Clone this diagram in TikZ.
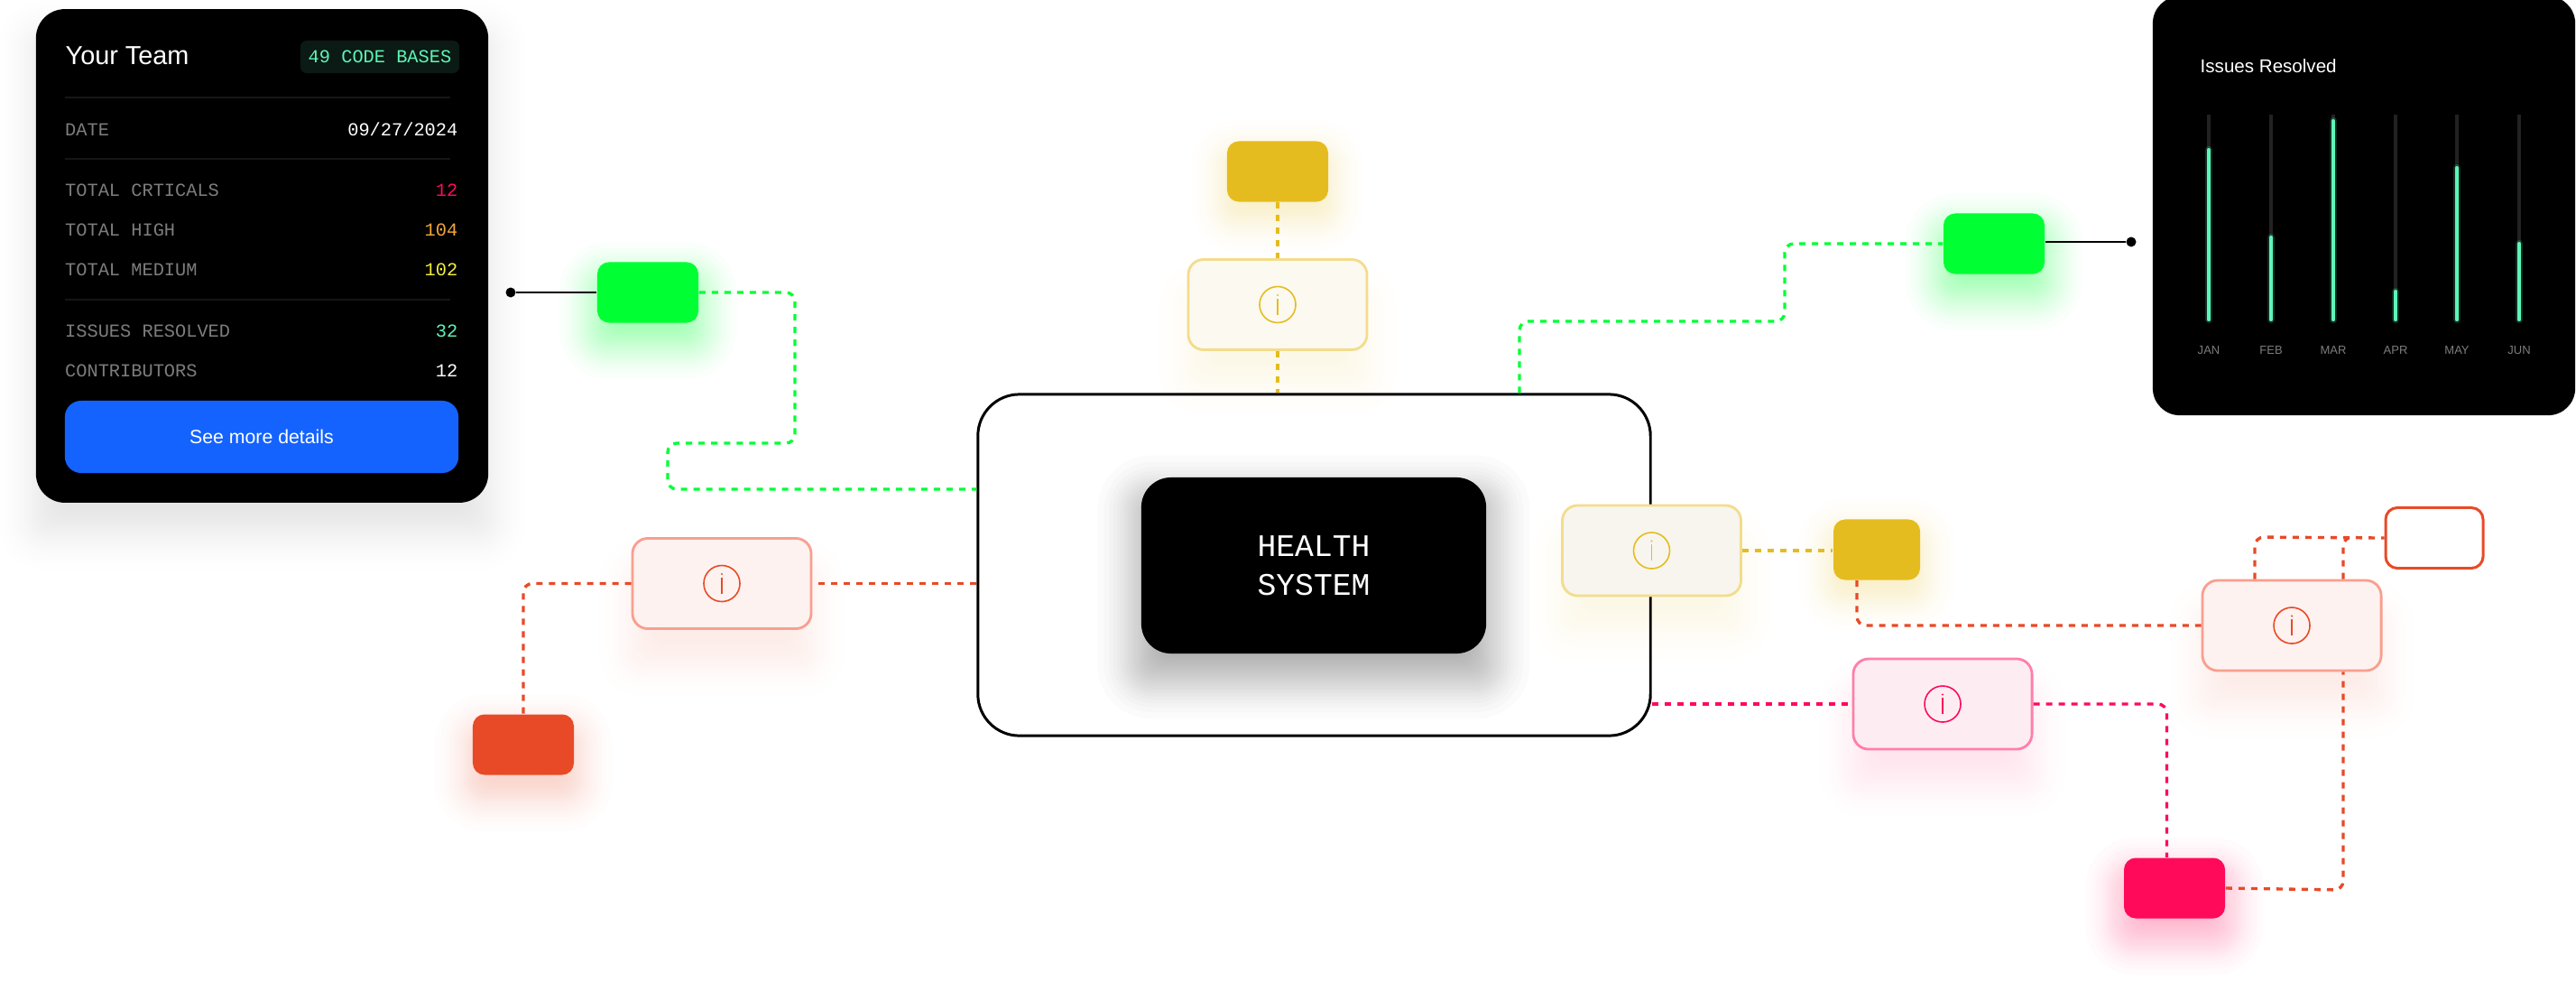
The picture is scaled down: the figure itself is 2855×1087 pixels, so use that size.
\documentclass[tikz,border=0pt]{standalone}
\usepackage{fontspec}
\usepackage{xcolor}
\usepackage{tikz}
\usetikzlibrary{arrows.meta,positioning,calc,backgrounds}
\setmainfont{Liberation Sans}
\setmonofont{Liberation Mono}
\definecolor{hsInk}    {RGB}{  0,  0,  0}
\definecolor{hsGreen}  {RGB}{  0,255, 51}
\definecolor{hsGold}   {RGB}{229,188, 31}
\definecolor{hsGoldB}  {RGB}{243,220,140}
\definecolor{hsGoldL}  {RGB}{252,249,241}
\definecolor{hsGoldM}  {RGB}{247,245,238}
\definecolor{hsRed}    {RGB}{232, 74, 39}
\definecolor{hsRedB}   {RGB}{248,159,143}
\definecolor{hsRedL}   {RGB}{253,242,239}
\definecolor{hsPink}   {RGB}{255, 10, 90}
\definecolor{hsPinkB}  {RGB}{255,127,168}
\definecolor{hsPinkL}  {RGB}{253,237,243}
\definecolor{hsMint}   {RGB}{ 94,245,184}
\definecolor{hsMintD}  {RGB}{ 11, 26, 20}
\definecolor{hsBlue}   {RGB}{ 20, 99,255}
\definecolor{hsLabel}  {RGB}{125,125,125}
\definecolor{hsRule}   {RGB}{ 22, 22, 22}
\definecolor{hsTrack}  {RGB}{ 34, 34, 34}
\definecolor{hsOrange} {RGB}{245,168, 60}
\definecolor{hsYellow} {RGB}{245,240, 60}

% soft glow behind a node: name, colour, drop, spread, opacity per layer
\newcommand{\softglow}[5]{%
  \foreach \layer in {3,...,32}{
    \pgfmathsetmacro{\gt}{(\layer-0.5)/32}
    \pgfmathsetmacro{\grow}{max(#4*ln((1-\gt)/\gt)/4.16,-#3-6)}
    \pgfmathsetmacro{\rad}{16+0.9*max(\grow,0)}
    \fill[#2,opacity=#5,rounded corners=\rad*0.01cm]
      ([xshift=-\grow*0.01cm,yshift=\grow*0.01cm-#3*0.01cm] #1.north west) rectangle
      ([xshift=\grow*0.01cm,yshift=-\grow*0.01cm-#3*0.01cm] #1.south east);
  }}
% ring with the i inside, centred on an info box
\newcommand{\infomark}[2]{%
  \node[iconring,draw=#2] (#1Ring) at (#1) {};
  \draw[#2,line width=0.5pt] ([yshift=-0.11cm] #1Ring.center) -- ([yshift=0.07cm] #1Ring.center);
  \fill[#2] ([yshift=0.105cm] #1Ring.center) circle (0.012cm);}

\begin{document}
\begin{tikzpicture}[
  x=0.01cm,y=-0.01cm,
  chip/.style={rectangle,rounded corners=0.13cm,inner sep=0pt,
               minimum width=1.12cm,minimum height=0.67cm},
  infobox/.style={rectangle,rounded corners=0.17cm,inner sep=0pt,line width=0.8pt,
                  minimum width=1.98cm,minimum height=1cm},
  iconring/.style={circle,inner sep=0pt,minimum size=0.4cm,line width=0.45pt},
  link/.style={line width=0.95pt,dash pattern=on 0.07cm off 0.07cm,rounded corners=0.1cm},
  wire/.style={line width=0.7pt,draw=hsInk},
  dotend/.style={circle,fill=hsInk,inner sep=0pt,minimum size=0.11cm},
  card/.style={rectangle,rounded corners=0.32cm,fill=hsInk,inner sep=0pt},
  rowlabel/.style={font=\fontsize{5.78}{7}\ttfamily,text=hsLabel,anchor=west,inner sep=0pt},
  rowvalue/.style={font=\fontsize{5.78}{7}\ttfamily,anchor=east,inner sep=0pt},
  rowrule/.style={draw=hsRule,line width=0.5pt},
  track/.style={draw=hsTrack,line width=1pt},
  barfill/.style={draw=hsMint,line width=1.15pt,line cap=round},
  month/.style={font=\fontsize{3.7}{5}\selectfont,text=hsLabel,inner sep=0pt}
]
\useasboundingbox (0,0) rectangle (2855,1087);

% --- Centre
\node[rectangle,draw=hsInk,line width=0.85pt,rounded corners=0.46cm,inner sep=0pt,
      minimum width=7.45cm,minimum height=3.78cm] (frameSys) at (1456.5,626) {};
\node[rectangle,fill=hsInk,rounded corners=0.33cm,inner sep=0pt,align=center,
      minimum width=3.82cm,minimum height=1.95cm,text=white,
      font=\fontsize{9.87}{12.2}\ttfamily] (coreSys) at (1456,626.5) {HEALTH\\SYSTEM};

% --- Coloured tags
\node[chip,fill=hsGreen] (tagGreenL) at (718,324) {};
\node[chip,fill=hsGreen] (tagGreenR) at (2210,270) {};
\node[chip,fill=hsGold] (tagGoldT) at (1416,190) {};
\node[chip,fill=hsGold,minimum width=0.96cm] (tagGoldR) at (2080,609) {};
\node[chip,fill=hsRed] (tagRed) at (580,825) {};
\node[chip,fill=hsPink] (tagPink) at (2410,984) {};
\node[chip,fill=white,draw=hsRed,line width=0.85pt,minimum width=1.08cm] (tagOpen) at (2698,596) {};

% --- Info boxes
\node[infobox,fill=hsRedL,draw=hsRedB] (infoL) at (800,646.5) {};
\node[infobox,fill=hsGoldL,draw=hsGoldB] (infoT) at (1416,337.5) {};
\node[infobox,fill=hsGoldM,draw=hsGoldB] (infoM) at (1830.5,610) {};
\node[infobox,fill=hsPinkL,draw=hsPinkB] (infoP) at (2153,780) {};
\node[infobox,fill=hsRedL,draw=hsRedB] (infoR) at (2540,693) {};
\infomark{infoL}{hsRed}
\infomark{infoT}{hsGold}
\infomark{infoM}{hsGold}
\infomark{infoP}{hsPink}
\infomark{infoR}{hsRed}

% --- Team card
\node[card,minimum width=5.01cm,minimum height=5.465cm] (cardTeam) at (290.5,283.5) {};
\node[anchor=west,inner sep=0pt,text=white,font=\fontsize{8.2}{10}\selectfont] (teamTitle) at (72,62) {Your Team};
\node[rectangle,rounded corners=0.07cm,fill=hsMintD,inner sep=0pt,minimum width=1.76cm,minimum height=0.36cm,
      text=hsMint,font=\fontsize{5.78}{7}\ttfamily] (teamBadge) at (421,63) {49 CODE BASES};
\draw[rowrule] (72,108) -- (499,108) (72,176) -- (499,176) (72,332) -- (499,332);
\node[rowlabel] (rowDate) at (71.5,143.5) {DATE};
\node[rowvalue,text=white] (valDate) at (508,143.5) {09/27/2024};
\node[rowlabel] (rowCrit) at (71.5,211) {TOTAL CRTICALS};
\node[rowvalue,text=hsPink] (valCrit) at (508,211) {12};
\node[rowlabel] (rowHigh) at (71.5,255) {TOTAL HIGH};
\node[rowvalue,text=hsOrange] (valHigh) at (508,255) {104};
\node[rowlabel] (rowMed) at (71.5,299) {TOTAL MEDIUM};
\node[rowvalue,text=hsYellow] (valMed) at (508,299) {102};
\node[rowlabel] (rowIssues) at (71.5,367) {ISSUES RESOLVED};
\node[rowvalue,text=hsMint] (valIssues) at (508,367) {32};
\node[rowlabel] (rowContrib) at (71.5,411) {CONTRIBUTORS};
\node[rowvalue,text=white] (valContrib) at (508,411) {12};
\node[rectangle,rounded corners=0.18cm,fill=hsBlue,inner sep=0pt,minimum width=4.36cm,minimum height=0.8cm,
      text=white,font=\fontsize{6.05}{7}\selectfont] (teamButton) at (290,484) {See more details};

% --- Chart card
\node[card,rounded corners=0.3cm,minimum width=4.68cm,minimum height=4.64cm] (cardChart) at (2620,228) {};
\node[anchor=west,inner sep=0pt,text=white,font=\fontsize{5.85}{7}\selectfont] (chartTitle) at (2438,73) {Issues Resolved};
\foreach \bx/\btop/\bname [count=\bi] in {2448/166/JAN,2517/263/FEB,2586/134/MAR,2655/323/APR,2723/186/MAY,2792/270/JUN}{
  \draw[track] (\bx,127) -- (\bx,356);
  \draw[hsMint,opacity=0.18,line width=2.4pt,line cap=round] (\bx,\btop) -- (\bx,354);
  \draw[barfill] (\bx,\btop) -- (\bx,354);
  \node[month] (month\bi) at (\bx,388) {\bname};
}

% --- Connectors
\node[dotend] (dotTeam) at (566,324) {};
\node[dotend] (dotChart) at (2362,268) {};
\draw[wire] (dotTeam) -- (tagGreenL);
\draw[wire] (tagGreenR.east |- dotChart) -- (dotChart);

\draw[link,draw=hsGreen] (tagGreenL.east) -- (881,324) -- (881,491) -- (740,491) -- (740,542) -- (frameSys.west |- 740,542);
\draw[link,draw=hsGreen] (frameSys.north -| 1684,0) -- (1684,356) -- (1978,356) -- (1978,270) -- (tagGreenR.west);
\draw[link,draw=hsRed] (frameSys.west |- infoL) -- (infoL.east);
\draw[link,draw=hsRed] (infoL.west) -- (580,646.5) -- (tagRed.north);
\draw[link,draw=hsGold] (tagGoldT.south) -- (infoT.north);
\draw[link,draw=hsGold] (infoT.south) -- (frameSys.north -| infoT);
\draw[link,draw=hsGold] (infoM.east) -- (tagGoldR.west |- infoM);
\draw[link,draw=hsRed] (tagGoldR.south -| 2058,0) -- (2058,693) -- (infoR.west);
\draw[link,draw=hsPink] (frameSys.east |- infoP) -- (infoP.west);
\draw[link,draw=hsPink] (infoP.east) -- (2401.5,780) -- (tagPink.north -| 2401.5,0);
\draw[link,draw=hsRed] (tagPink.east) -- (2597,986) -- (infoR.south -| 2597,0);
\draw[link,draw=hsRed] (infoR.north -| 2499,0) -- (2499,595) -- (tagOpen.west);
\draw[link,draw=hsRed] (infoR.north -| 2597,0) -- (2597,595) -- (2611,595);

% --- Glows go underneath everything
\begin{pgfonlayer}{background}
  \softglow{cardTeam}{black}{32}{70}{0.005}
  \softglow{coreSys}{black}{24}{80}{0.016}
  \softglow{tagGreenL}{hsGreen}{20}{70}{0.018}
  \softglow{tagGreenR}{hsGreen}{20}{70}{0.018}
  \softglow{tagGoldT}{hsGold}{16}{65}{0.01}
  \softglow{tagGoldR}{hsGold}{16}{65}{0.01}
  \softglow{tagRed}{hsRed}{20}{70}{0.012}
  \softglow{tagPink}{hsPink}{20}{70}{0.016}
  \softglow{infoL}{hsRed}{38}{60}{0.004}
  \softglow{infoT}{hsGold}{38}{60}{0.004}
  \softglow{infoM}{hsGold}{38}{60}{0.004}
  \softglow{infoP}{hsPink}{38}{60}{0.004}
  \softglow{infoR}{hsRed}{38}{60}{0.004}
\end{pgfonlayer}
\end{tikzpicture}
\end{document}
